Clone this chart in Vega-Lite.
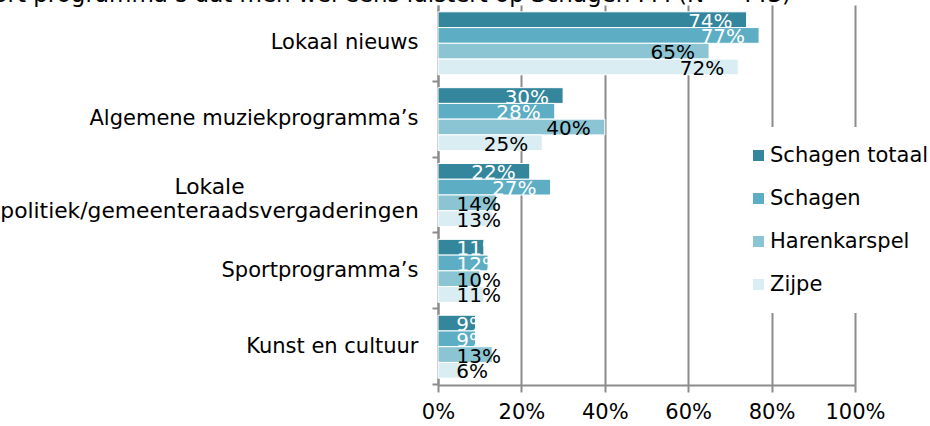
{
  "$schema": "https://vega.github.io/schema/vega-lite/v6.json",
  "width": 417,
  "height": 380,
  "autosize": {"type": "none"},
  "padding": {"left": 438, "top": 5, "right": 75, "bottom": 41},
  "background": "white",
  "title": {
    "text": "Soort programma’s dat men wel eens luistert op Schagen FM (N = 443)",
    "anchor": "end",
    "frame": "group",
    "dx": -64,
    "offset": -20,
    "baseline": "alphabetic",
    "font": "DejaVu Sans",
    "fontSize": 23,
    "fontWeight": "normal",
    "color": "black"
  },
  "data": {
    "values": [
      {"cat": "Lokaal nieuws", "grp": "Schagen totaal", "value": 0.74},
      {"cat": "Lokaal nieuws", "grp": "Schagen", "value": 0.77},
      {"cat": "Lokaal nieuws", "grp": "Harenkarspel", "value": 0.65},
      {"cat": "Lokaal nieuws", "grp": "Zijpe", "value": 0.72},
      {"cat": "Algemene muziekprogramma’s", "grp": "Schagen totaal", "value": 0.30},
      {"cat": "Algemene muziekprogramma’s", "grp": "Schagen", "value": 0.28},
      {"cat": "Algemene muziekprogramma’s", "grp": "Harenkarspel", "value": 0.40},
      {"cat": "Algemene muziekprogramma’s", "grp": "Zijpe", "value": 0.25},
      {"cat": "Lokale politiek/gemeenteraadsvergaderingen", "grp": "Schagen totaal", "value": 0.22},
      {"cat": "Lokale politiek/gemeenteraadsvergaderingen", "grp": "Schagen", "value": 0.27},
      {"cat": "Lokale politiek/gemeenteraadsvergaderingen", "grp": "Harenkarspel", "value": 0.14},
      {"cat": "Lokale politiek/gemeenteraadsvergaderingen", "grp": "Zijpe", "value": 0.13},
      {"cat": "Sportprogramma’s", "grp": "Schagen totaal", "value": 0.11},
      {"cat": "Sportprogramma’s", "grp": "Schagen", "value": 0.12},
      {"cat": "Sportprogramma’s", "grp": "Harenkarspel", "value": 0.10},
      {"cat": "Sportprogramma’s", "grp": "Zijpe", "value": 0.11},
      {"cat": "Kunst en cultuur", "grp": "Schagen totaal", "value": 0.09},
      {"cat": "Kunst en cultuur", "grp": "Schagen", "value": 0.09},
      {"cat": "Kunst en cultuur", "grp": "Harenkarspel", "value": 0.13},
      {"cat": "Kunst en cultuur", "grp": "Zijpe", "value": 0.06}
    ]
  },
  "encoding": {
    "y": {
      "field": "cat",
      "type": "nominal",
      "sort": ["Lokaal nieuws", "Algemene muziekprogramma’s", "Lokale politiek/gemeenteraadsvergaderingen", "Sportprogramma’s", "Kunst en cultuur"],
      "scale": {"paddingInner": 0.17, "paddingOuter": 0.09},
      "axis": {
        "title": null,
        "domainColor": "#8c8c8c",
        "domainWidth": 2,
        "tickColor": "#8c8c8c",
        "tickWidth": 2,
        "tickSize": 6,
        "bandPosition": 1.102,
        "labelFont": "DejaVu Sans",
        "labelFontSize": {"condition": {"test": "datum.value == 'Lokale politiek/gemeenteraadsvergaderingen'", "value": 21.8}, "value": 21},
        "labelColor": "black",
        "labelLimit": 600,
        "labelLineHeight": 24,
        "labelExpr": "datum.value == 'Lokale politiek/gemeenteraadsvergaderingen' ? ['Lokale', 'politiek/gemeenteraadsvergaderingen'] : datum.value",
        "labelAlign": {"condition": {"test": "datum.value == 'Lokale politiek/gemeenteraadsvergaderingen'", "value": "center"}, "value": "right"},
        "labelPadding": {"condition": {"test": "datum.value == 'Lokale politiek/gemeenteraadsvergaderingen'", "value": 223}, "value": 14},
        "labelOffset": {"condition": {"test": "datum.value == 'Lokale politiek/gemeenteraadsvergaderingen'", "value": -8}, "value": 0}
      }
    },
    "yOffset": {
      "field": "grp",
      "type": "nominal",
      "sort": ["Schagen totaal", "Schagen", "Harenkarspel", "Zijpe"],
      "scale": {"paddingInner": 0, "paddingOuter": 0}
    },
    "x": {
      "field": "value",
      "type": "quantitative",
      "scale": {"domain": [0, 1], "nice": false},
      "axis": {
        "title": null,
        "values": [0, 0.2, 0.4, 0.6, 0.8, 1],
        "format": ".0%",
        "grid": true,
        "gridColor": "#8c8c8c",
        "gridWidth": 2,
        "domainColor": "#8c8c8c",
        "domainWidth": 2,
        "tickColor": "#8c8c8c",
        "tickWidth": 2,
        "tickSize": 7,
        "labelFlush": false,
        "labelFont": "DejaVu Sans",
        "labelFontSize": 21,
        "labelColor": "black",
        "labelPadding": 9
      }
    }
  },
  "layer": [
    {
      "mark": {"type": "bar", "stroke": "white", "strokeWidth": 1},
      "encoding": {
        "color": {
          "field": "grp",
          "type": "nominal",
          "sort": ["Schagen totaal", "Schagen", "Harenkarspel", "Zijpe"],
          "scale": {"domain": ["Schagen totaal", "Schagen", "Harenkarspel", "Zijpe"], "range": ["#33869c", "#5daec4", "#8bc5d3", "#daedf3"]},
          "legend": {
            "title": null,
            "orient": "none",
            "legendX": 292,
            "legendY": 122,
            "padding": 18,
            "fillColor": "white",
            "symbolType": "square",
            "symbolSize": 121,
            "symbolStrokeWidth": 0,
            "labelFont": "DejaVu Sans",
            "labelFontSize": 21,
            "labelColor": "black",
            "labelOffset": 1,
            "labelLimit": 300,
            "rowPadding": 21
          }
        }
      }
    },
    {
      "mark": {
        "type": "text",
        "align": "right",
        "baseline": "middle",
        "font": "DejaVu Sans",
        "fontSize": 20,
        "dy": 2,
        "dx": {"expr": "max(-14, 18 + (datum.value < 0.1 ? 32 : 45) - scale('x', datum.value))"}
      },
      "encoding": {
        "text": {"field": "value", "type": "quantitative", "format": ".0%"},
        "color": {
          "condition": {"test": "datum.grp == 'Schagen totaal' || datum.grp == 'Schagen'", "value": "white"},
          "value": "black"
        }
      }
    }
  ],
  "config": {"view": {"stroke": null}}
}
